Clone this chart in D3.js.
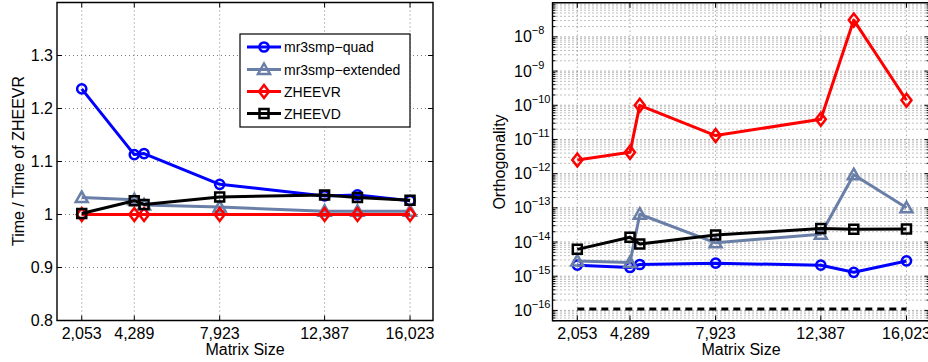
<!DOCTYPE html>
<html>
<head>
<meta charset="utf-8">
<script src="https://cdn.jsdelivr.net/npm/d3@7"></script>
<style>
  html, body { margin: 0; padding: 0; background: #fff; }
  svg { display: block; }
  text { font-family: "Liberation Sans", Arial, Helvetica, sans-serif; fill: #000; }
</style>
</head>
<body>
<svg id="chart" width="928" height="362"></svg>
<script>
// ---------------- data ----------------
const sizes = [2053, 4289, 4704, 7923, 12387, 13786, 16023];
const sizeTicks = [2053, 4289, 7923, 12387, 16023];

const timeQuad     = [1.237, 1.113, 1.115, 1.057, 1.035, 1.037, 1.026];
const timeExtended = [1.032, 1.028, 1.018, 1.014, 1.006, 1.006, 1.006];
const timeZHEEVR   = [1.000, 1.000, 1.000, 1.000, 1.000, 1.000, 1.000];
const timeZHEEVD   = [1.002, 1.026, 1.019, 1.033, 1.037, 1.032, 1.027];
const timeTicks    = [0.8, 0.9, 1.0, 1.1, 1.2, 1.3];
const timeTickLabels = ["0.8", "0.9", "1", "1.1", "1.2", "1.3"];

const orthQuad     = [2.1e-15, 1.8e-15, 2.2e-15, 2.4e-15, 2.1e-15, 1.3e-15, 2.8e-15];
const orthExtended = [2.8e-15, 2.5e-15, 6.5e-14, 9.5e-15, 1.7e-14, 9.3e-13, 1.0e-13];
const orthZHEEVR   = [2.5e-12, 4.2e-12, 1.0e-10, 1.3e-11, 3.9e-11, 3.1e-8, 1.4e-10];
const orthZHEEVD   = [6.1e-15, 1.38e-14, 8.7e-15, 1.6e-14, 2.5e-14, 2.35e-14, 2.4e-14];
const epsLevel     = 1.1e-16;
const orthExponents = [-16, -15, -14, -13, -12, -11, -10, -9, -8];

const seriesNames = ["mr3smp\u2212quad", "mr3smp\u2212extended", "ZHEEVR", "ZHEEVD"];
const seriesColors = ["#0000ff", "#6a7fa8", "#ff0000", "#000000"];
const seriesMarkers = ["circle", "triangle", "diamond", "square"];

// ---------------- helpers ----------------
const svg = d3.select("#chart");
svg.append("rect").attr("width", 928).attr("height", 362).attr("fill", "#fff");
const FS = 16;

function markerPath(type) {
  switch (type) {
    case "circle": return d3.symbol().type(d3.symbolCircle).size(Math.PI * 4.6 * 4.6)();
    case "square": return "M-4.5,-4.5H4.5V4.5H-4.5Z";
    case "diamond": return "M0,-6.5L5,0L0,6.5L-5,0Z";
    case "triangle": return "M0,-6L6,4.5H-6Z";
  }
}

function drawSeries(g, x, y, values, i) {
  const pts = sizes.map((s, k) => [x(s), y(values[k])]);
  const sg = g.append("g");
  sg.append("path")
    .attr("d", d3.line()(pts))
    .attr("fill", "none")
    .attr("stroke", seriesColors[i])
    .attr("stroke-width", 3)
    .attr("stroke-linejoin", "round");
  sg.selectAll("path.m").data(pts).enter().append("path")
    .attr("class", "m")
    .attr("d", markerPath(seriesMarkers[i]))
    .attr("transform", d => `translate(${d[0]},${d[1]})`)
    .attr("fill", "none")
    .attr("stroke", seriesColors[i])
    .attr("stroke-width", 2.5);
}

function frame(g, x0, x1, y0, y1) {
  g.append("path")
    .attr("d", `M${x0},${y0}H${x1}V${y1}H${x0}Z`)
    .attr("fill", "none").attr("stroke", "#000").attr("stroke-width", 1.4);
}

// ---------------- left chart ----------------
const L = { x0: 57, x1: 433, y0: 2.5, y1: 320.5 };
const xL = d3.scaleLinear().domain([1000, 17000]).range([L.x0, L.x1]);
const yL = d3.scaleLinear().domain([0.8, 1.4]).range([L.y1, L.y0]);
const gL = svg.append("g");

// grid
gL.selectAll("line.vg").data(sizeTicks).enter().append("line")
  .attr("x1", d => xL(d)).attr("x2", d => xL(d))
  .attr("y1", L.y0).attr("y2", L.y1)
  .attr("stroke", "#808080").attr("stroke-width", 1).attr("stroke-dasharray", "1,3");
gL.selectAll("line.hg").data(timeTicks.slice(1)).enter().append("line")
  .attr("x1", L.x0).attr("x2", L.x1)
  .attr("y1", d => yL(d)).attr("y2", d => yL(d))
  .attr("stroke", "#808080").attr("stroke-width", 1).attr("stroke-dasharray", "1,3");

// ticks (inward, both sides)
const tickLen = 5;
sizeTicks.forEach(t => {
  gL.append("line").attr("x1", xL(t)).attr("x2", xL(t)).attr("y1", L.y1).attr("y2", L.y1 - tickLen).attr("stroke", "#000");
  gL.append("line").attr("x1", xL(t)).attr("x2", xL(t)).attr("y1", L.y0).attr("y2", L.y0 + tickLen).attr("stroke", "#000");
});
timeTicks.forEach(t => {
  gL.append("line").attr("x1", L.x0).attr("x2", L.x0 + tickLen).attr("y1", yL(t)).attr("y2", yL(t)).attr("stroke", "#000");
  gL.append("line").attr("x1", L.x1).attr("x2", L.x1 - tickLen).attr("y1", yL(t)).attr("y2", yL(t)).attr("stroke", "#000");
});

// series
[timeQuad, timeExtended, timeZHEEVR, timeZHEEVD].forEach((v, i) => drawSeries(gL, xL, yL, v, i));

frame(gL, L.x0, L.x1, L.y0, L.y1);

// tick labels
const fmt = d3.format(",");
gL.selectAll("text.xt").data(sizeTicks).enter().append("text")
  .attr("x", d => xL(d)).attr("y", 338.5)
  .attr("text-anchor", "middle").attr("font-size", FS)
  .text(d => fmt(d));
gL.selectAll("text.yt").data(timeTicks).enter().append("text")
  .attr("x", 53).attr("y", d => yL(d)).attr("dy", "0.36em")
  .attr("text-anchor", "end").attr("font-size", FS)
  .text((d, i) => timeTickLabels[i]);

// axis labels
gL.append("text").attr("x", 245).attr("y", 354.5).attr("text-anchor", "middle")
  .attr("font-size", FS).text("Matrix Size");
gL.append("text").attr("transform", "translate(24,161) rotate(-90)")
  .attr("text-anchor", "middle").attr("font-size", FS).text("Time / Time of ZHEEVR");

// legend
const lg = gL.append("g");
lg.append("rect").attr("x", 240).attr("y", 34).attr("width", 170).attr("height", 93)
  .attr("fill", "#fff").attr("stroke", "#000").attr("stroke-width", 1.2);
const legY = [47, 69.5, 91.5, 113.5];
seriesNames.forEach((name, i) => {
  lg.append("line").attr("x1", 247).attr("x2", 281).attr("y1", legY[i]).attr("y2", legY[i])
    .attr("stroke", seriesColors[i]).attr("stroke-width", 3);
  lg.append("path").attr("d", markerPath(seriesMarkers[i]))
    .attr("transform", `translate(264,${legY[i]})`)
    .attr("fill", "none").attr("stroke", seriesColors[i]).attr("stroke-width", 2.5);
  lg.append("text").attr("x", 284).attr("y", legY[i]).attr("dy", "0.36em")
    .attr("font-size", 14).text(name);
});

// ---------------- right chart ----------------
const R = { x0: 552.5, x1: 929.5, y0: 2.7, y1: 320.7 };
const xR = d3.scaleLinear().domain([1000, 17000]).range([R.x0, R.x1]);
const yR = d3.scaleLog().domain([5e-17, 1e-7]).range([R.y1, R.y0]);
const gR = svg.append("g");

// minor + major horizontal grid
const logLines = [];
for (let e = -17; e <= -8; e++) {
  for (let m = 1; m <= 9; m++) {
    const v = m * Math.pow(10, e);
    if (v >= 5e-17 * 0.999 && v <= 1e-7 * 1.001) logLines.push({ v, major: m === 1 });
  }
}
gR.selectAll("line.hg").data(logLines).enter().append("line")
  .attr("x1", R.x0).attr("x2", R.x1)
  .attr("y1", d => yR(d.v)).attr("y2", d => yR(d.v))
  .attr("stroke", d => d.major ? "#606060" : "#808080").attr("stroke-width", 1)
  .attr("stroke-dasharray", "1,3");
gR.selectAll("line.vg").data(sizeTicks).enter().append("line")
  .attr("x1", d => xR(d)).attr("x2", d => xR(d))
  .attr("y1", R.y0).attr("y2", R.y1)
  .attr("stroke", "#808080").attr("stroke-width", 1).attr("stroke-dasharray", "1,3");

// ticks
sizeTicks.forEach(t => {
  gR.append("line").attr("x1", xR(t)).attr("x2", xR(t)).attr("y1", R.y1).attr("y2", R.y1 - tickLen).attr("stroke", "#000");
  gR.append("line").attr("x1", xR(t)).attr("x2", xR(t)).attr("y1", R.y0).attr("y2", R.y0 + tickLen).attr("stroke", "#000");
});
logLines.forEach(d => {
  const len = d.major ? tickLen : 3;
  gR.append("line").attr("x1", R.x0).attr("x2", R.x0 + len).attr("y1", yR(d.v)).attr("y2", yR(d.v)).attr("stroke", "#000");
  gR.append("line").attr("x1", R.x1).attr("x2", R.x1 - len).attr("y1", yR(d.v)).attr("y2", yR(d.v)).attr("stroke", "#000");
});

// eps reference line
gR.append("line")
  .attr("x1", xR(sizes[0])).attr("x2", xR(sizes[sizes.length - 1]))
  .attr("y1", yR(epsLevel)).attr("y2", yR(epsLevel))
  .attr("stroke", "#000").attr("stroke-width", 3).attr("stroke-dasharray", "7,5");

// series
[orthQuad, orthExtended, orthZHEEVR, orthZHEEVD].forEach((v, i) => drawSeries(gR, xR, yR, v, i));

frame(gR, R.x0, R.x1, R.y0, R.y1);

// tick labels
gR.selectAll("text.xt").data(sizeTicks).enter().append("text")
  .attr("x", d => xR(d)).attr("y", 338.5)
  .attr("text-anchor", "middle").attr("font-size", FS)
  .text(d => fmt(d));
orthExponents.forEach(e => {
  const y = yR(Math.pow(10, e));
  const t = gR.append("text").attr("x", 514).attr("y", y + 5.5).attr("font-size", FS);
  t.append("tspan").text("10");
  t.append("tspan").attr("dy", -8).attr("font-size", 11).text("\u2212" + Math.abs(e));
});

gR.append("text").attr("x", 741).attr("y", 354.5).attr("text-anchor", "middle")
  .attr("font-size", FS).text("Matrix Size");
gR.append("text").attr("transform", "translate(505,162) rotate(-90)")
  .attr("text-anchor", "middle").attr("font-size", FS).text("Orthogonality");
</script>
</body>
</html>
